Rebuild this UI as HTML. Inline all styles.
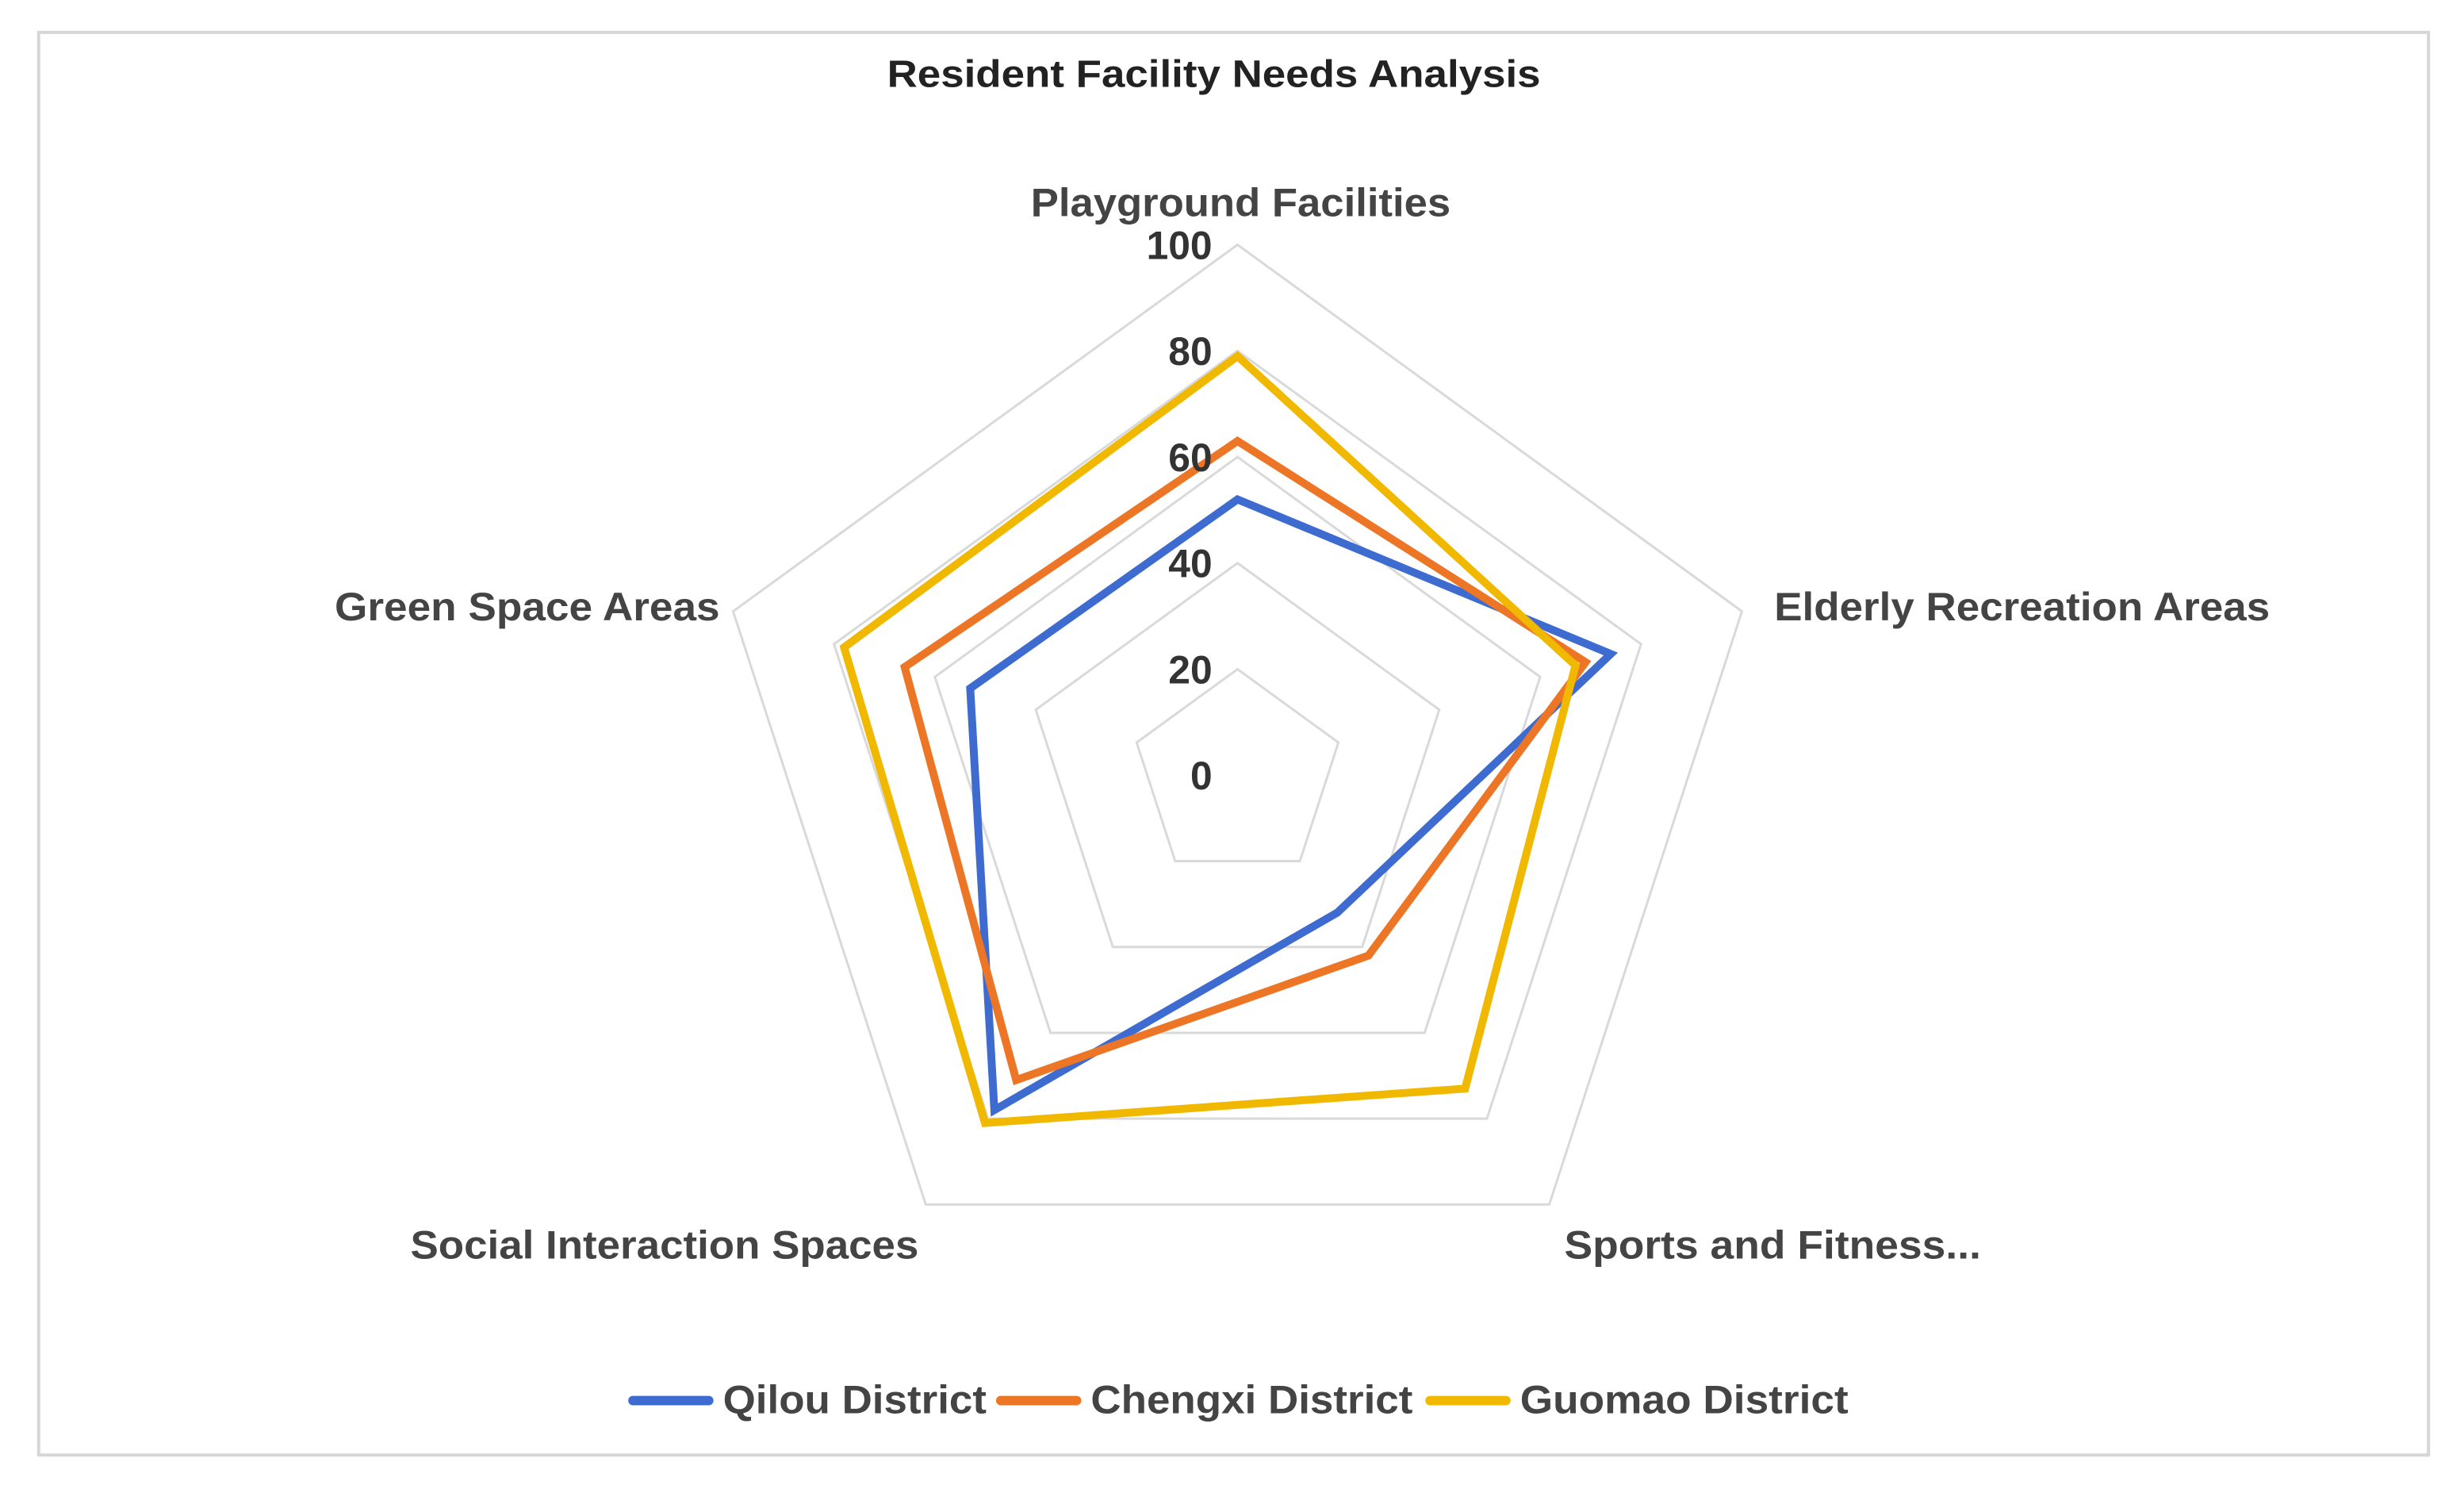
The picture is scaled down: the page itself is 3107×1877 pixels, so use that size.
<!DOCTYPE html>
<html><head><meta charset="utf-8"><style>
html,body{margin:0;padding:0;background:#fff;}
svg{display:block;font-family:"Liberation Sans",Arial,sans-serif;font-weight:bold;}
</style></head><body>
<svg id="chart" width="3107" height="1877" viewBox="0 0 1561 943" preserveAspectRatio="none" xmlns="http://www.w3.org/2000/svg">
<rect x="24.5" y="20.5" width="1514" height="901" fill="#fff" stroke="#d6d6d6" stroke-width="2"/>
<text x="769" y="55" text-anchor="middle" font-size="24" textLength="414" lengthAdjust="spacingAndGlyphs" fill="#222">Resident Facility Needs Analysis</text>
<g id="grid"></g>
<g id="series"></g>
<g id="labels"></g>
<g id="legend"></g>
</svg>
<script>
const categories = ["Playground Facilities","Elderly Recreation Areas","Sports and Fitness...","Social Interaction Spaces","Green Space Areas"];
const seriesNames = ["Qilou District","Chengxi District","Guomao District"];
const qilou = [52,74,32,78,53];
const chengxi = [63,69,42,71,66];
const guomao = [79,67,73,81,78];
const ticks = [0,20,40,60,80,100];

const NS="http://www.w3.org/2000/svg";
const cx=784, cy=491, R=336, maxV=100;
const colors=["#3d6bcf","#ed7526","#f1b800"];
const allSeries=[qilou,chengxi,guomao];
function ang(i){return -Math.PI/2 + i*2*Math.PI/categories.length;}
function pt(i,v){const r=v/maxV*R;return [cx+r*Math.cos(ang(i)), cy+r*Math.sin(ang(i))];}
function mk(tag,attrs,parent){const e=document.createElementNS(NS,tag);for(const k in attrs)e.setAttribute(k,attrs[k]);parent.appendChild(e);return e;}
const grid=document.getElementById('grid');
ticks.forEach(t=>{
  if(t===0)return;
  const p=categories.map((c,i)=>pt(i,t).join(',')).join(' ');
  const g=mk('polygon',{points:p,fill:'none',stroke:'#d9d9d9','stroke-width':1.5},grid);
  
  
});
const lab=document.getElementById('labels');
ticks.forEach(t=>{
  const [x,y]=pt(0,t);
  const e=mk('text',{x:x-16,y:y+9,'text-anchor':'end','font-size':25,fill:'#333'},lab);
  e.textContent=t;
  
  
});
const catPos=[[786,137,'middle',266],[1124,393,'start',314],[991,797,'start',264],[582,797,'end',322],[456,393,'end',244]];
categories.forEach((c,i)=>{
  const [x,y,a,w]=catPos[i];
  const e=mk('text',{x:x,y:y,'text-anchor':a,'font-size':25,fill:'#444',textLength:w,lengthAdjust:'spacingAndGlyphs'},lab);
  e.textContent=c;
  
  
});
const sg=document.getElementById('series');
allSeries.forEach((s,k)=>{
  const p=s.map((v,i)=>pt(i,v).join(',')).join(' ');
  const e=mk('polygon',{points:p,fill:'none',stroke:colors[k],'stroke-width':5,'stroke-linejoin':'miter'},sg);
  
  
});
const lg=document.getElementById('legend');
const lx=[401,634,906];
const lw=[167,204,208];
seriesNames.forEach((n,k)=>{
  const l=mk('line',{x1:lx[k],y1:887,x2:lx[k]+48,y2:887,stroke:colors[k],'stroke-width':6,'stroke-linecap':'round'},lg);
  
  
  const t=mk('text',{x:lx[k]+57,y:895,'font-size':25,fill:'#444',textLength:lw[k],lengthAdjust:'spacingAndGlyphs'},lg);
  t.textContent=n;
  
  
});
</script>
</body></html>
